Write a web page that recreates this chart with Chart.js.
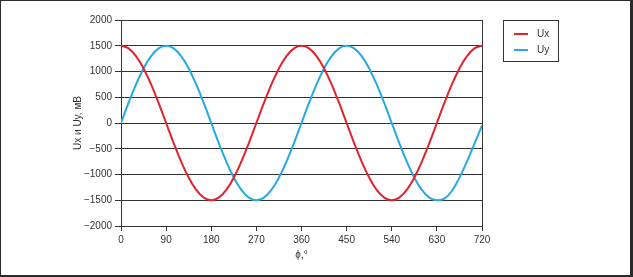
<!DOCTYPE html>
<html>
<head>
<meta charset="utf-8">
<script src="https://cdn.jsdelivr.net/npm/chart.js@4.4.1/dist/chart.umd.min.js"></script>
<style>
  html, body { margin: 0; padding: 0; background: #fff; }
  #wrap { position: relative; width: 633px; height: 277px; }
  #frame { position: absolute; left: 0; top: 0; width: 633px; height: 277px; box-sizing: border-box;
           border-style: solid; border-color: #2a2a2a; border-width: 1px 3px 2px 1px; pointer-events: none; }
  #legend { position: absolute; left: 503px; top: 20px; width: 56px; height: 42px; box-sizing: border-box;
            border: 1px solid #333; font: 10px "Liberation Sans", Arial, sans-serif; color: #333; }
  .item { position: absolute; left: 10px; height: 12px; line-height: 12px; }
  .item span.swatch { position: absolute; left: 0; top: 5px; width: 14px; height: 2px; }
  .item span.lbl { position: absolute; left: 23px; top: 0; white-space: nowrap; }
</style>
</head>
<body>
<div id="wrap">
  <canvas id="chart" width="633" height="277"></canvas>
  <div id="legend"></div>
  <div id="frame"></div>
</div>
<script>
// phase angle, degrees
const phi = [0, 15, 30, 45, 60, 75, 90, 105, 120, 135, 150, 165, 180, 195, 210, 225, 240, 255, 270, 285, 300, 315, 330, 345,
             360, 375, 390, 405, 420, 435, 450, 465, 480, 495, 510, 525, 540, 555, 570, 585, 600, 615, 630, 645, 660, 675, 690, 705, 720];
// Ux, mV
const ux = [1500, 1450, 1300, 1060, 750, 390, 0, -390, -750, -1060, -1300, -1450, -1500, -1450, -1300, -1060, -750, -390, 0, 390, 750, 1060, 1300, 1450,
            1500, 1450, 1300, 1060, 750, 390, 0, -390, -750, -1060, -1300, -1450, -1500, -1450, -1300, -1060, -750, -390, 0, 390, 750, 1060, 1300, 1450, 1500];
// Uy, mV
const uy = [0, 390, 750, 1060, 1300, 1450, 1500, 1450, 1300, 1060, 750, 390, 0, -390, -750, -1060, -1300, -1450, -1500, -1450, -1300, -1060, -750, -390,
            0, 390, 750, 1060, 1300, 1450, 1500, 1450, 1300, 1060, 750, 390, 0, -390, -750, -1060, -1300, -1450, -1500, -1470, -1320, -1060, -750, -400, -50];

const seriesNames = ['Ux', 'Uy'];
const seriesColors = ['#e2232e', '#27a9df'];
const xTitle = 'ϕ,°';
const yTitle = 'Ux и Uy, мВ';

const FONT = { family: '"Liberation Sans", Arial, sans-serif', size: 10 };
const INK = '#333';

const toPts = (ys) => phi.map((x, i) => ({ x: x, y: ys[i] }));

const chart = new Chart(document.getElementById('chart'), {
    type: 'line',
    data: {
        datasets: [ux, uy].map((ys, i) => ({
            label: seriesNames[i],
            data: toPts(ys),
            borderColor: seriesColors[i],
            backgroundColor: seriesColors[i],
            borderWidth: 2,
            pointRadius: 0,
            tension: 0.4,
            fill: false
        }))
    },
    options: {
        responsive: false,
        animation: false,
        layout: { padding: { left: 0, top: 20, right: 151, bottom: 0 } },
        plugins: { legend: { display: false }, tooltip: { enabled: false } },
        scales: {
            x: {
                type: 'linear', min: 0, max: 720,
                ticks: { stepSize: 90, color: INK, font: FONT, padding: 3, maxRotation: 0 },
                grid: {
                    color: (c) => (c.tick && c.tick.value === 720) ? INK : 'rgba(0,0,0,0)',
                    tickColor: INK, tickLength: 5, lineWidth: 1
                },
                border: { color: INK, width: 1 },
                title: { display: true, text: xTitle, color: INK, font: FONT, padding: { top: 0, bottom: 16 } },
                afterFit: (s) => { s.height = 51; }
            },
            y: {
                min: -2000, max: 2000,
                ticks: {
                    stepSize: 500, color: INK, font: FONT, padding: 3,
                    callback: (v) => v < 0 ? '\u2212' + Math.abs(v) : String(v)
                },
                grid: { color: INK, tickColor: INK, tickLength: 6, lineWidth: 1 },
                border: { color: INK, width: 1 },
                title: { display: true, text: yTitle, color: INK, font: FONT, padding: { top: 72, bottom: 0 } },
                afterFit: (s) => { s.width = 121; }
            }
        }
    }
});

// legend box
const legendEl = document.getElementById('legend');
chart.data.datasets.forEach((ds, i) => {
    const item = document.createElement('div');
    item.className = 'item';
    item.style.top = (7 + i * 16) + 'px';
    item.innerHTML = '<span class="swatch" style="background:' + ds.borderColor + '"></span><span class="lbl">' + ds.label + '</span>';
    legendEl.appendChild(item);
});
</script>
</body>
</html>
